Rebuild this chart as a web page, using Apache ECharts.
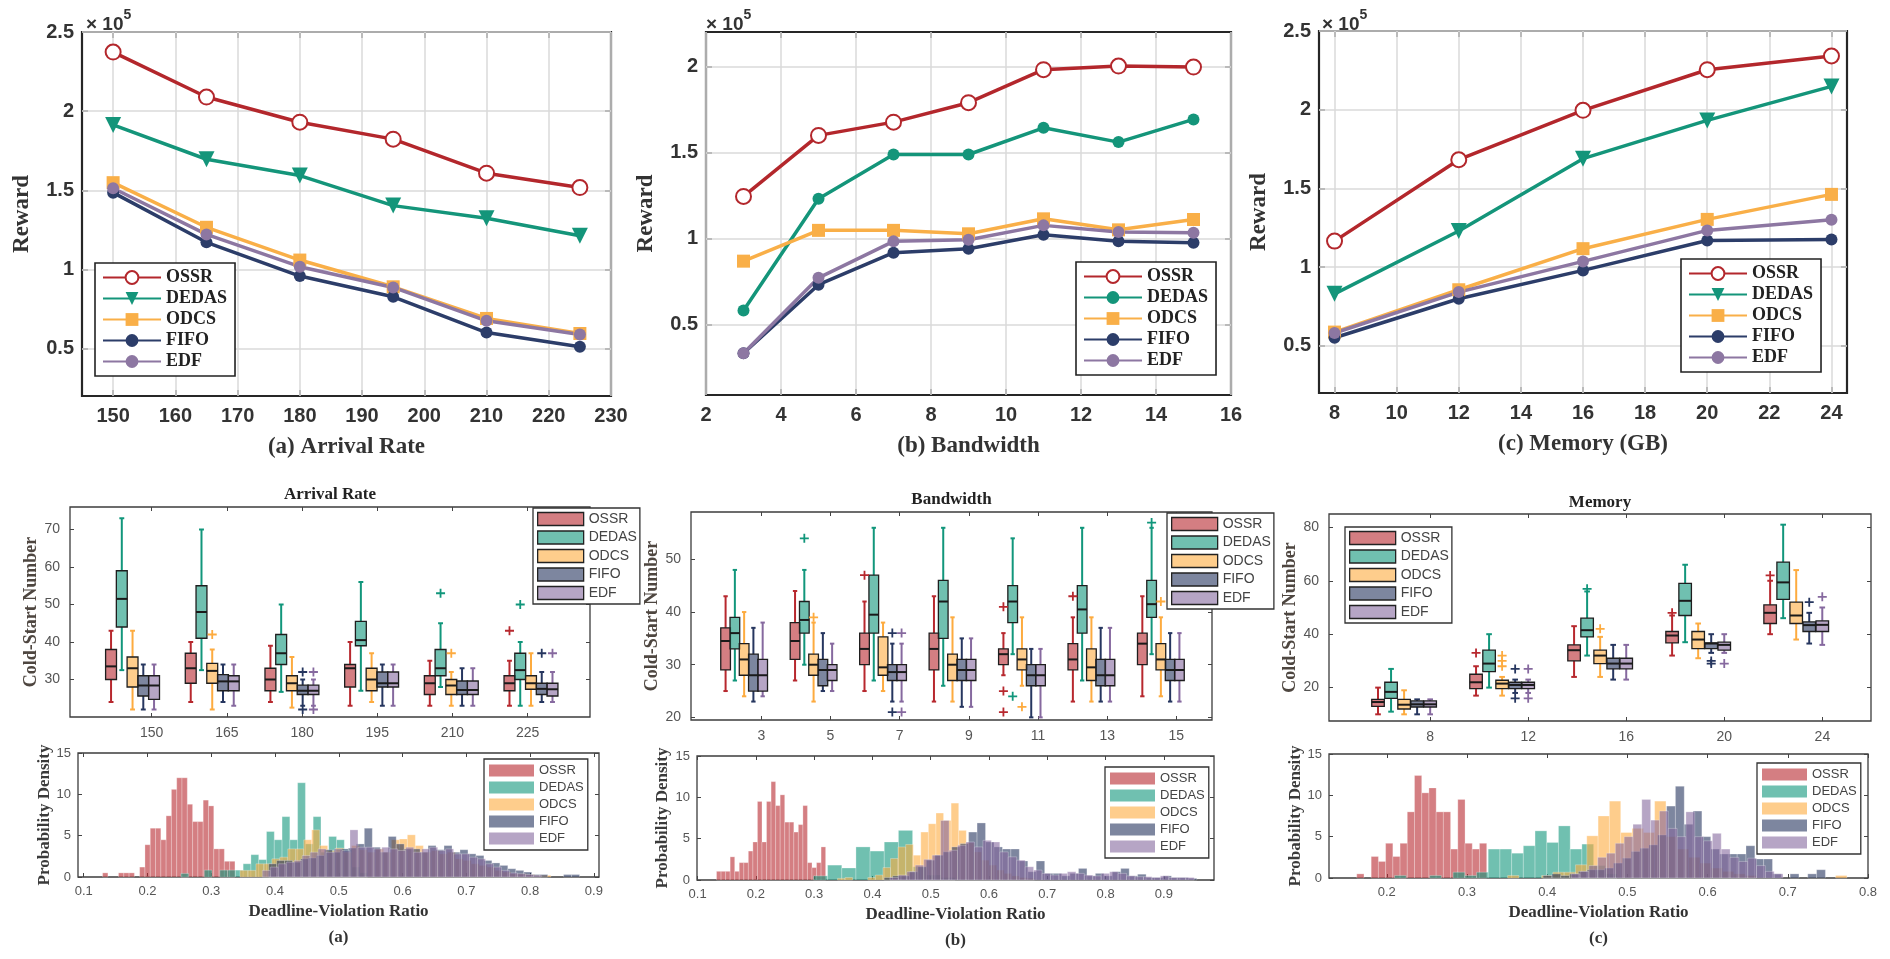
<!DOCTYPE html>
<html>
<head>
<meta charset="utf-8">
<script src="https://cdn.jsdelivr.net/npm/echarts@6/dist/echarts.min.js"></script>
<style>
html, body { margin: 0; padding: 0; background: #fff; }
#chart { width: 1890px; height: 959px; }
</style>
</head>
<body>
<div id="chart"></div>
<script>
var names = ['OSSR', 'DEDAS', 'ODCS', 'FIFO', 'EDF'];
var lineColors = ['#b3272c', '#14957a', '#f9af48', '#2c3d69', '#8d77a2'];
var fillColors = ['#b7282e', '#11967b', '#fdab3f', '#26365f', '#86699f'];

// ---- top row: reward (x10^5) ----
var arrivalX = [150, 165, 180, 195, 210, 225];
var arrivalTicks = [150, 160, 170, 180, 190, 200, 210, 220, 230];
var arrivalReward = [
    [2.373, 2.089, 1.930, 1.823, 1.608, 1.517],
    [1.913, 1.696, 1.593, 1.403, 1.323, 1.213],
    [1.548, 1.266, 1.059, 0.890, 0.690, 0.595],
    [1.485, 1.171, 0.958, 0.827, 0.601, 0.511],
    [1.513, 1.221, 1.017, 0.886, 0.675, 0.589]
];
var bandwidthX = [3, 5, 7, 9, 11, 13, 15];
var bandwidthTicks = [2, 4, 6, 8, 10, 12, 14, 16];
var bandwidthReward = [
    [1.244, 1.599, 1.676, 1.789, 1.981, 2.002, 1.996],
    [0.581, 1.231, 1.488, 1.488, 1.643, 1.560, 1.692],
    [0.868, 1.047, 1.047, 1.027, 1.114, 1.050, 1.110],
    [0.333, 0.731, 0.917, 0.940, 1.021, 0.984, 0.975],
    [0.333, 0.771, 0.983, 0.992, 1.076, 1.037, 1.033]
];
var memoryX = [8, 12, 16, 20, 24];
var memoryTicks = [8, 10, 12, 14, 16, 18, 20, 22, 24];
var memoryReward = [
    [1.165, 1.682, 1.996, 2.254, 2.341],
    [0.830, 1.229, 1.689, 1.932, 2.148],
    [0.587, 0.856, 1.117, 1.303, 1.462],
    [0.551, 0.799, 0.979, 1.169, 1.176],
    [0.581, 0.841, 1.036, 1.233, 1.301]
];
var rewardTicks = [0.5, 1, 1.5, 2, 2.5];

// ---- middle row: cold-start boxes [min, q1, median, q3, max] ----
var arrivalCats = ['150', '165', '180', '195', '210', '225'];
var arrivalBox = [
    [[24, 30, 33.5, 38, 43], [24, 29, 33, 37, 40], [24, 27, 30, 33, 39], [23, 28, 33, 34, 40], [23, 26, 29, 31, 35], [23, 27, 29, 31, 35]],
    [[32.5, 44, 51.5, 59, 73], [32.5, 41, 48, 55, 70], [26.7, 34, 37, 42, 50], [27, 39, 40.5, 45.5, 56], [28, 31, 33, 38, 45], [23, 30, 32.5, 37, 40]],
    [[22, 28, 33, 36, 43], [22, 29, 32.3, 34.3, 38], [22.5, 27, 29, 31, 36], [24, 27, 30, 33, 37], [23, 26, 28.4, 30, 32], [23, 27.4, 29, 31, 37]],
    [[22, 25.6, 28.4, 31, 34], [24, 27, 29.5, 31.3, 34], [23, 26, 27, 28.5, 30], [23, 28, 29, 32, 34], [23, 26, 27.2, 29.6, 33], [24, 26, 27.5, 29, 32]],
    [[22, 24.7, 28.4, 31, 34], [23, 27, 29.5, 31, 34], [23, 26, 27, 28.5, 30], [23, 28, 29, 32, 34], [23, 26, 27.2, 29.6, 33], [24, 25.6, 27.4, 29, 32]]
];
var arrivalOutliers = [
    [[5, 43]],
    [[4, 53], [5, 50]],
    [[1, 42], [4, 37]],
    [[2, 32], [2, 22], [5, 37]],
    [[2, 32], [2, 22], [5, 37]]
];
var bandwidthCats = ['3', '5', '7', '9', '11', '13', '15'];
var bandwidthBox = [
    [[25, 29, 34.5, 37, 43], [27, 31, 34.5, 38, 44], [25, 30, 33, 36, 42], [23, 29, 33, 36, 43], [28, 30, 32, 33, 36], [23, 29, 31, 34, 39], [24, 30, 34, 36, 43]],
    [[27, 33, 36, 39, 48], [30, 36, 38.5, 42, 48], [27, 36, 39.5, 47, 56], [26, 35, 42, 46, 56], [32, 38, 42, 45, 54], [27, 36, 40.5, 45, 56], [32, 39, 41.5, 46, 56]],
    [[24, 28, 31, 34, 40], [23, 28, 30, 32, 38], [25, 28, 29.5, 35.3, 38], [23, 27, 30, 32, 39], [26, 29, 31, 33, 39], [23, 27, 29.5, 33, 39], [24, 29, 31, 34, 39]],
    [[23, 25, 28, 32, 37], [25, 26, 29, 31, 36], [23, 27, 28.6, 30, 34], [22, 27, 29, 31, 35], [20, 26, 28, 30, 33], [23, 26, 28, 31, 37], [23, 27, 29, 31, 36]],
    [[24, 25, 28, 31, 38], [25, 27, 29, 30, 34], [23, 27, 28.6, 30, 34], [22, 27, 29, 31, 35], [20, 26, 28, 30, 33], [23, 26, 28, 31, 37], [23, 27, 29, 31, 36]]
];
var bandwidthOutliers = [
    [[2, 47], [4, 41], [4, 25], [4, 21], [5, 43]],
    [[1, 54], [4, 24], [6, 57]],
    [[1, 39], [4, 22], [6, 42]],
    [[2, 36], [2, 21]],
    [[2, 36], [2, 21]]
];
var memoryCats = ['8', '12', '16', '20', '24'];
var memoryBox = [
    [[10, 13, 14.6, 15.6, 20], [17, 19.6, 22, 25, 28], [24, 30, 34, 36, 43], [32, 36.75, 39.5, 41, 47], [40, 44, 48, 51, 60]],
    [[11, 16, 18.4, 22, 27], [20, 26, 29, 34, 40], [32, 39, 41.5, 46, 56], [37, 47, 52.5, 59, 66], [46, 53, 59.4, 67, 81]],
    [[10, 12, 13.6, 15.6, 19], [17, 19.6, 21.5, 22.75, 24], [24, 29, 32, 34, 39], [31, 34.6, 38, 41, 44], [38, 44, 47, 52, 64]],
    [[10, 12.75, 13.75, 15, 15.6], [18, 19.6, 21, 22, 23], [23, 27, 29, 31, 36], [33, 34.6, 36.5, 36.75, 40], [36.5, 41, 43.4, 44.6, 48]],
    [[10, 12.75, 13.75, 15, 15.6], [18, 19.6, 21, 22, 23], [23, 27, 29, 31, 36], [33, 34, 36, 37, 40], [36, 41, 43.5, 45, 50]]
];
var memoryOutliers = [
    [[1, 33], [3, 48], [4, 62]],
    [[2, 57]],
    [[1, 32], [1, 30], [1, 28], [2, 42]],
    [[1, 27], [1, 16], [3, 30], [3, 29], [4, 52]],
    [[1, 27], [1, 16], [3, 29], [4, 54]]
];

// ---- bottom row: deadline-violation histograms (bin start, bin width, densities) ----
var arrivalHistStart = [0.1296, 0.2524, 0.345, 0.39, 0.38];
var arrivalHistWidth = [0.0083, 0.0122, 0.0125, 0.0125, 0.0125];
var arrivalHist = [
    [0.5, 0, 0, 0.5, 0.5, 0.5, 0, 1.2, 3.9, 5.9, 5.9, 4.5, 7.4, 10.6, 12, 12, 8.8, 6.7, 6.7, 9.3, 8.6, 3.4, 3.4, 1.9, 1.9],
    [0.43, 0, 0, 0.83, 0, 0.83, 0.83, 0.83, 1.6, 2.7, 2.1, 5.5, 4.5, 7.3, 4.5, 11.4, 4.0, 7.3, 3.0, 4.9, 4.5, 3.3, 1.2, 0.5],
    [0.8, 0.8, 1.6, 1.6, 2.2, 2.4, 3.4, 3.4, 4.5, 5.7, 3.8, 3.2, 3.5, 3.0, 3.8, 3.3, 3.0, 3.4, 3.0, 4.5, 4.6, 5.1, 3.8, 3.0, 3.2, 2.8, 3.0, 2.2, 2.0, 1.6, 1.4, 1.2, 0.8, 0.6, 0.4, 0.4, 0.3, 0.2, 0.2],
    [1.6, 2.0, 2.0, 1.8, 2.2, 2.3, 2.6, 3.3, 3.0, 3.4, 3.5, 4.0, 5.9, 3.6, 3.0, 4.9, 4.0, 3.4, 3.4, 3.0, 3.8, 3.3, 3.8, 3.0, 3.3, 2.8, 2.6, 2.0, 1.7, 1.4, 1.0, 0.8, 0.6, 0.3, 0.3, 0, 0, 0.3, 0.3],
    [0.8, 1.2, 1.6, 1.8, 2.0, 2.6, 3.0, 3.4, 3.0, 3.4, 3.2, 5.7, 3.6, 3.6, 3.4, 3.6, 3.4, 3.2, 3.6, 3.0, 3.4, 3.6, 3.2, 3.4, 2.8, 2.8, 2.4, 2.2, 1.6, 1.2, 0.8, 0.5, 0.4, 0.3, 0.2]
];
var bandwidthHistStart = [0.1325, 0.2988, 0.34, 0.42, 0.43];
var bandwidthHistWidth = [0.0078, 0.0243, 0.013, 0.0145, 0.0145];
var bandwidthHist = [
    [1.05, 1.05, 1.05, 2.8, 1.05, 2.1, 2.1, 3.5, 4.6, 9.5, 4.6, 9.5, 11.9, 9.0, 10.3, 7.0, 7.0, 5.8, 6.7, 9.0, 2.1, 1.5, 2.1, 4.0],
    [0.5, 1.8, 1.45, 4.0, 3.5, 4.6, 6.0, 1.6, 0.6, 0.3],
    [0.2, 0.3, 0, 0, 0.3, 0.6, 1.5, 2.6, 4.0, 4.3, 3.0, 5.8, 6.8, 8.1, 7.2, 9.3, 6.0, 4.5, 3.4, 2.4, 1.8, 1.2, 0.8, 0.5, 0.3, 0.2],
    [0.3, 0.5, 0.5, 1.0, 1.6, 2.4, 3.0, 3.4, 4.0, 4.4, 5.8, 6.9, 4.6, 4.0, 3.75, 3.75, 2.3, 1.0, 2.3, 0.8, 0.8, 0.5, 0.8, 1.4, 0.5, 0.8, 0.5, 1.0, 1.4, 0.5, 0.7, 0.3, 0.3, 0.5, 0.3, 0.3, 0.2],
    [0.3, 0.6, 1.0, 1.8, 2.5, 3.0, 7.2, 3.6, 4.2, 4.6, 4.0, 4.8, 4.6, 3.4, 2.8, 2.4, 1.6, 1.2, 0.8, 0.6, 0.8, 1.0, 0.8, 0.6, 0.5, 0.8, 1.0, 0.8, 0.5, 0.4, 0.4, 0.3, 0.5, 0.3, 0.3, 0.3]
];
var memoryHistStart = [0.1626, 0.2097, 0.3507, 0.3949, 0.43];
var memoryHistWidth = [0.009, 0.0146, 0.0141, 0.011, 0.011];
var memoryHist = [
    [0.5, 0, 2.6, 2.0, 4.2, 2.6, 4.2, 8.0, 12.4, 10.3, 10.9, 8.0, 8.0, 3.5, 9.5, 4.2, 3.5, 4.2],
    [0.3, 0, 0, 0.3, 0, 0.7, 0.3, 0.7, 3.5, 3.5, 3.0, 3.9, 5.7, 4.3, 6.3, 3.5, 4.1, 1.5, 0.5],
    [0.3, 0, 0, 0.3, 0.7, 0.7, 1.6, 5.1, 7.5, 9.3, 5.5, 6.0, 5.5, 9.3, 5.0, 3.5, 2.5, 1.8, 1.2, 0.8, 0.5, 0.3, 0, 0, 0, 0, 0, 0, 0, 0.3],
    [0.3, 0.5, 0.3, 0.5, 0.8, 1.0, 1.0, 1.2, 1.8, 2.4, 3.2, 3.6, 4.0, 5.2, 8.7, 11.1, 6.5, 8.1, 5.0, 3.5, 2.9, 2.9, 2.9, 3.9, 2.3, 2.3, 0.5, 0, 0.5, 0, 0.5, 1.0],
    [0.5, 0.8, 1.5, 2.5, 3.0, 4.2, 5.0, 6.5, 9.5, 7.0, 8.1, 6.0, 5.0, 8.0, 5.0, 4.5, 5.4, 3.5, 2.5, 2.0, 2.4, 1.5, 0.8, 0.5]
];

var SERIF = '"Liberation Serif", "Times New Roman", serif';
var SANS = '"Liberation Sans", Arial, sans-serif';

var grid = [], xAxis = [], yAxis = [], series = [], legend = [], title = [];

function alpha(hex, a) {
    var n = parseInt(hex.slice(1), 16);
    return 'rgba(' + (n >> 16) + ',' + ((n >> 8) & 255) + ',' + (n & 255) + ',' + a + ')';
}

function makeAxis(g, pos, c, main) {
    return {
        type: 'value', gridIndex: g, position: pos, min: c.min, max: c.max,
        name: main ? c.name : null, nameLocation: 'middle', nameGap: c.nameGap,
        nameTextStyle: c.nameStyle,
        axisLine: { show: false, onZero: false },
        axisTick: { show: true, inside: true, length: c.tickLen, customValues: c.ticks,
            lineStyle: { color: c.tickColor, width: c.tickWidth } },
        axisLabel: { show: main, customValues: c.ticks, margin: c.margin, formatter: c.fmt,
            color: c.labelColor, fontSize: c.labelSize, fontFamily: SANS, fontWeight: c.labelWeight },
        splitLine: { show: false }
    };
}

// one grid with its frame, and axes on all four sides (MATLAB "box on")
function addPanel(rect, frame, xc, yc) {
    grid.push({ left: rect[0], top: rect[1], width: rect[2], height: rect[3], show: true,
        borderColor: frame[0], borderWidth: frame[1], backgroundColor: '#fff' });
    var g = grid.length - 1;
    var idx = { x: xAxis.length, y: yAxis.length };
    xAxis.push(makeAxis(g, 'bottom', xc, true));
    xAxis.push(makeAxis(g, 'top', xc, false));
    yAxis.push(makeAxis(g, 'left', yc, true));
    yAxis.push(makeAxis(g, 'right', yc, false));
    return idx;
}

function stripPrefix(name) {
    return name.split(':')[1];
}

// ---------------- top row ----------------
var topPanels = [
    { p: 'ta', rect: [82, 32, 529, 364], xs: arrivalX, ys: arrivalReward, xr: [145, 230], xt: arrivalTicks,
      yr: [0.2, 2.5], yt: rewardTicks, xName: '(a) Arrival Rate', tri: true, leg: [95, 263], exp: 86 },
    { p: 'tb', rect: [706, 32, 525, 363], xs: bandwidthX, ys: bandwidthReward, xr: [2, 16], xt: bandwidthTicks,
      yr: [0.09, 2.2], yt: [0.5, 1, 1.5, 2], xName: '(b) Bandwidth', tri: false, leg: [1076, 262], exp: 706 },
    { p: 'tc', rect: [1319, 31, 528, 362], xs: memoryX, ys: memoryReward, xr: [7.5, 24.5], xt: memoryTicks,
      yr: [0.2, 2.5], yt: rewardTicks, xName: '(c) Memory (GB)', tri: true, leg: [1681, 259], exp: 1322 }
];

topPanels.forEach(function (tp) {
    var common = { tickLen: 6, tickColor: '#262626', tickWidth: 1.5, labelColor: '#333',
        labelSize: 20, labelWeight: 'bold' };
    var nameStyle = { fontFamily: SERIF, fontWeight: 'bold', fontSize: 23, color: '#333' };
    var ax = addPanel(tp.rect, ['#262626', 2.2],
        Object.assign({ min: tp.xr[0], max: tp.xr[1], ticks: tp.xt, name: tp.xName, nameGap: 40,
            nameStyle: nameStyle, margin: 10, fmt: function (v) { return String(v); } }, common),
        Object.assign({ min: tp.yr[0], max: tp.yr[1], ticks: tp.yt, name: 'Reward', nameGap: 48,
            nameStyle: nameStyle, margin: 8, fmt: function (v) { return String(v); } }, common));

    var symbols = [
        { symbol: 'emptyCircle', size: 15, rotate: 0 },
        tp.tri ? { symbol: 'triangle', size: 16, rotate: 180 } : { symbol: 'circle', size: 12, rotate: 0 },
        { symbol: 'rect', size: 13, rotate: 0 },
        { symbol: 'circle', size: 12, rotate: 0 },
        { symbol: 'circle', size: 12, rotate: 0 }
    ];
    names.forEach(function (n, k) {
        var s = {
            type: 'line', name: tp.p + ':' + n, xAxisIndex: ax.x, yAxisIndex: ax.y,
            data: tp.xs.map(function (x, i) { return [x, tp.ys[k][i]]; }),
            symbol: symbols[k].symbol, symbolSize: symbols[k].size, symbolRotate: symbols[k].rotate,
            showSymbol: true, z: 3,
            lineStyle: { color: lineColors[k], width: 3.5 },
            itemStyle: k === 0 ? { color: lineColors[k], borderColor: lineColors[k], borderWidth: 3 }
                : { color: lineColors[k], borderColor: lineColors[k], borderWidth: 0 }
        };
        if (k === 0) {
            // background grid lines at the tick positions
            s.markLine = {
                silent: true, symbol: 'none', z: 1, animation: false, label: { show: false },
                lineStyle: { color: '#dadada', width: 1.5, type: 'solid' },
                emphasis: { disabled: true },
                data: tp.xt.map(function (v) { return { xAxis: v }; })
                    .concat(tp.yt.map(function (v) { return { yAxis: v }; }))
            };
        }
        series.push(s);
    });

    legend.push({
        orient: 'vertical', align: 'left', left: tp.leg[0], top: tp.leg[1],
        data: names.map(function (n) { return tp.p + ':' + n; }),
        formatter: stripPrefix, selectedMode: false,
        itemWidth: 58, itemHeight: 16, itemGap: 2, padding: [5, 8, 5, 7],
        borderColor: '#222', borderWidth: 1.6, backgroundColor: '#fff',
        textStyle: { fontFamily: SERIF, fontWeight: 'bold', fontSize: 18, color: '#222', lineHeight: 19 }
    });

    title.push({
        text: '{a|\u00d7 10}{b|5}', left: tp.exp, top: 8, padding: 0,
        textStyle: { rich: {
            a: { fontFamily: SANS, fontSize: 19, color: '#333', lineHeight: 26, verticalAlign: 'bottom' },
            b: { fontFamily: SANS, fontSize: 14, color: '#333', lineHeight: 26, verticalAlign: 'top' }
        } }
    });
});

// ---------------- middle row: box charts ----------------
var plusPath = 'path://M4,0L6,0L6,4L10,4L10,6L6,6L6,10L4,10L4,6L0,6L0,4L4,4Z';

var boxPanels = [
    { p: 'ba', rect: [70, 507, 520, 210], cats: arrivalCats, box: arrivalBox, out: arrivalOutliers,
      xr: [-1.087, 5.83], step: 1.06, shift: -0.255, gap: 0.143, bw: 0.145,
      yr: [20, 76], yt: [30, 40, 50, 60, 70], title: 'Arrival Rate', ty: 486, leg: [533, 508], gapName: 27 },
    { p: 'bb', rect: [691, 512, 521, 208], cats: bandwidthCats, box: bandwidthBox, out: bandwidthOutliers,
      xr: [-1.016, 6.515], step: 1.004, shift: -0.248, gap: 0.134, bw: 0.14,
      yr: [19.5, 59], yt: [20, 30, 40, 50], title: 'Bandwidth', ty: 491, leg: [1167, 513], gapName: 30 },
    { p: 'bc', rect: [1329, 514, 542, 207], cats: memoryCats, box: memoryBox, out: memoryOutliers,
      xr: [-1.033, 4.496], step: 1.0, shift: -0.267, gap: 0.133, bw: 0.128,
      yr: [7.5, 85], yt: [20, 40, 60, 80], title: 'Memory', ty: 494, leg: [1345, 527], gapName: 28 }
];

function boxRenderer(k, bw) {
    return function (params, api) {
        var x = api.value(0);
        var half = api.size([bw, 0])[0] / 2;
        var p = [1, 2, 3, 4, 5].map(function (d) { return api.coord([x, api.value(d)]); });
        var cx = p[0][0];
        var cap = half * 0.45;
        var c = fillColors[k];
        var wl = { stroke: c, lineWidth: 2 };
        return {
            type: 'group', children: [
                { type: 'line', shape: { x1: cx, y1: p[0][1], x2: cx, y2: p[1][1] }, style: wl },
                { type: 'line', shape: { x1: cx, y1: p[3][1], x2: cx, y2: p[4][1] }, style: wl },
                { type: 'line', shape: { x1: cx - cap, y1: p[0][1], x2: cx + cap, y2: p[0][1] }, style: wl },
                { type: 'line', shape: { x1: cx - cap, y1: p[4][1], x2: cx + cap, y2: p[4][1] }, style: wl },
                { type: 'rect', shape: { x: cx - half, y: p[3][1], width: half * 2, height: p[1][1] - p[3][1] },
                  style: { fill: alpha(c, 0.6), stroke: '#1e1e1e', lineWidth: 1.3 } },
                { type: 'line', shape: { x1: cx - half, y1: p[2][1], x2: cx + half, y2: p[2][1] },
                  style: { stroke: '#1a1a1a', lineWidth: 2 } }
            ]
        };
    };
}

boxPanels.forEach(function (bp) {
    var common = { tickLen: 4, tickColor: '#444', tickWidth: 1, labelColor: '#555', labelSize: 14, labelWeight: 'normal' };
    var ax = addPanel(bp.rect, ['#3c3c3c', 1.3],
        Object.assign({ min: bp.xr[0], max: bp.xr[1], ticks: bp.cats.map(function (c, i) { return i; }),
            name: null, margin: 9, fmt: function (v) { return bp.cats[Math.round(v)]; } }, common),
        Object.assign({ min: bp.yr[0], max: bp.yr[1], ticks: bp.yt, name: 'Cold-Start Number', nameGap: bp.gapName,
            nameStyle: { fontFamily: SERIF, fontWeight: 'bold', fontSize: 18, color: '#4e4640' },
            margin: 10, fmt: function (v) { return String(v); } }, common));

    function pos(g, k) { return bp.shift + g * bp.step + (k - 2) * bp.gap; }

    names.forEach(function (n, k) {
        series.push({
            type: 'custom', name: bp.p + ':' + n, xAxisIndex: ax.x, yAxisIndex: ax.y, z: 3,
            data: bp.box[k].map(function (s, g) { return [pos(g, k)].concat(s); }),
            encode: { x: 0, y: [1, 2, 3, 4, 5] },
            renderItem: boxRenderer(k, bp.bw)
        });
        series.push({
            type: 'scatter', name: bp.p + ':' + n, xAxisIndex: ax.x, yAxisIndex: ax.y, z: 4,
            data: bp.out[k].map(function (o) { return [pos(o[0], k), o[1]]; }),
            symbol: plusPath, symbolSize: 9, itemStyle: { color: fillColors[k], opacity: 1 }
        });
    });

    legend.push({
        orient: 'vertical', align: 'left', left: bp.leg[0], top: bp.leg[1],
        data: names.map(function (n, k) {
            return { name: bp.p + ':' + n, icon: 'rect',
                itemStyle: { color: alpha(fillColors[k], 0.6), borderColor: '#222', borderWidth: 1.3 } };
        }),
        formatter: stripPrefix, selectedMode: false,
        itemWidth: 46, itemHeight: 13, itemGap: 2.5, padding: [3, 3, 3, 4],
        borderColor: '#333', borderWidth: 1.3, backgroundColor: '#fff',
        textStyle: { fontFamily: SANS, fontSize: 14, color: '#444', lineHeight: 16 }
    });

    title.push({
        text: bp.title, left: bp.rect[0] + bp.rect[2] / 2, top: bp.ty, textAlign: 'center', padding: 0,
        textStyle: { fontFamily: SERIF, fontWeight: 'bold', fontSize: 17, color: '#222' }
    });
});

// ---------------- bottom row: histograms ----------------
var histPanels = [
    { p: 'ha', rect: [78, 753, 521, 124], start: arrivalHistStart, width: arrivalHistWidth, h: arrivalHist,
      xr: [0.091, 0.908], xt: [0.1, 0.2, 0.3, 0.4, 0.5, 0.6, 0.7, 0.8, 0.9], tag: '(a)', leg: [484, 759], gapName: 25 },
    { p: 'hb', rect: [697, 756, 517, 124], start: bandwidthHistStart, width: bandwidthHistWidth, h: bandwidthHist,
      xr: [0.099, 0.986], xt: [0.1, 0.2, 0.3, 0.4, 0.5, 0.6, 0.7, 0.8, 0.9], tag: '(b)', leg: [1105, 767], gapName: 26 },
    { p: 'hc', rect: [1329, 754, 539, 124], start: memoryHistStart, width: memoryHistWidth, h: memoryHist,
      xr: [0.128, 0.8], xt: [0.2, 0.3, 0.4, 0.5, 0.6, 0.7, 0.8], tag: '(c)', leg: [1757, 763], gapName: 24 }
];

function histRenderer(color) {
    return function (params, api) {
        var a = api.coord([api.value(0), api.value(2)]);
        var b = api.coord([api.value(1), 0]);
        return { type: 'rect', shape: { x: a[0], y: a[1], width: b[0] - a[0], height: b[1] - a[1] },
            style: { fill: color, stroke: 'rgba(255,255,255,0.45)', lineWidth: 0.6 } };
    };
}

histPanels.forEach(function (hp) {
    var common = { tickLen: 4, tickColor: '#444', tickWidth: 1, labelColor: '#555', labelSize: 13, labelWeight: 'normal' };
    var nameStyle = { fontFamily: SERIF, fontWeight: 'bold', fontSize: 17, color: '#333', lineHeight: 26 };
    var ax = addPanel(hp.rect, ['#3c3c3c', 1.3],
        Object.assign({ min: hp.xr[0], max: hp.xr[1], ticks: hp.xt, name: 'Deadline-Violation Ratio\n' + hp.tag,
            nameGap: 21, nameStyle: nameStyle, margin: 8, fmt: function (v) { return v.toFixed(1); } }, common),
        Object.assign({ min: 0, max: 15, ticks: [0, 5, 10, 15], name: 'Probability Density', nameGap: hp.gapName,
            nameStyle: { fontFamily: SERIF, fontWeight: 'bold', fontSize: 17, color: '#3a3a3a' },
            margin: 7, fmt: function (v) { return String(v); } }, common));

    names.forEach(function (n, k) {
        var data = [];
        hp.h[k].forEach(function (v, i) {
            if (v > 0) {
                data.push([hp.start[k] + i * hp.width[k], hp.start[k] + (i + 1) * hp.width[k], v]);
            }
        });
        series.push({
            type: 'custom', name: hp.p + ':' + n, xAxisIndex: ax.x, yAxisIndex: ax.y, z: 3,
            data: data, encode: { x: [0, 1], y: 2 },
            renderItem: histRenderer(alpha(fillColors[k], 0.6))
        });
    });

    legend.push({
        orient: 'vertical', align: 'left', left: hp.leg[0], top: hp.leg[1],
        data: names.map(function (n, k) {
            return { name: hp.p + ':' + n, icon: 'rect',
                itemStyle: { color: alpha(fillColors[k], 0.6), borderWidth: 0 } };
        }),
        formatter: stripPrefix, selectedMode: false,
        itemWidth: 45, itemHeight: 12, itemGap: 2, padding: [4, 4, 4, 5],
        borderColor: '#333', borderWidth: 1.3, backgroundColor: '#fff',
        textStyle: { fontFamily: SANS, fontSize: 13, color: '#444', lineHeight: 15 }
    });
});

var chart = echarts.init(document.getElementById('chart'));
chart.setOption({
    animation: false,
    backgroundColor: '#fff',
    title: title,
    grid: grid,
    xAxis: xAxis,
    yAxis: yAxis,
    legend: legend,
    series: series
});
</script>
</body>
</html>
